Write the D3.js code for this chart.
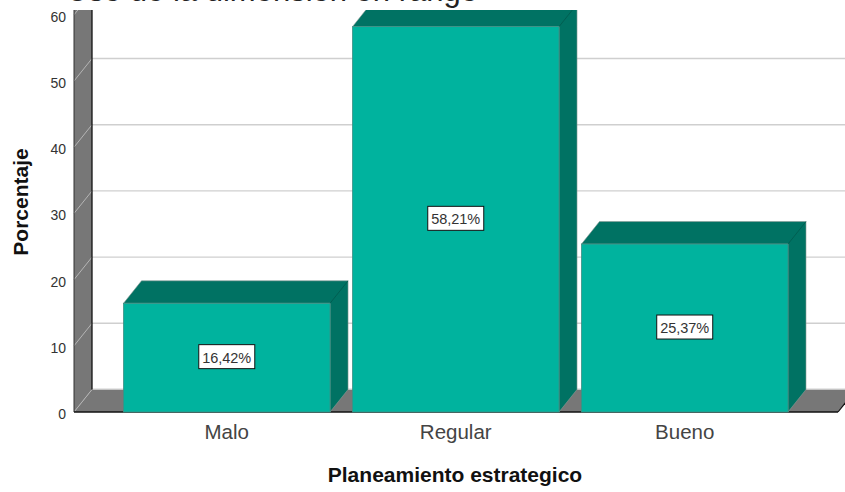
<!DOCTYPE html>
<html>
<head>
<meta charset="utf-8">
<script src="https://cdn.jsdelivr.net/npm/d3@7/dist/d3.min.js"></script>
<style>
  html, body { margin: 0; padding: 0; background: #fff; }
  svg { display: block; }
  text { font-family: "Liberation Sans", Arial, sans-serif; }
</style>
</head>
<body>
<svg id="chart" width="845" height="492"></svg>
<script>
// Values of the chart
const categories = ["Malo", "Regular", "Bueno"];
const percentages = [16.42, 58.21, 25.37];
const valueLabels = ["16,42%", "58,21%", "25,37%"];
const yTicks = [0, 10, 20, 30, 40, 50, 60];
const yAxisTitle = "Porcentaje";
const xAxisTitle = "Planeamiento estrategico";
const headingText = "Uso de la dimensión en rango";

const width = 845, height = 492;
const plot = { left: 74, right: 838, bottom: 412, top: 10 };
const depth = { x: 18, y: 22.5 };
const colors = {
  front: "#00b39e", side: "#007263", wall: "#777777",
  grid: "#cfcfcf", wallGrid: "#b5b5b5", axis: "#111111", text: "#333333"
};

const svg = d3.select("#chart");
const y = d3.scaleLinear().domain([0, 60]).range([plot.bottom, plot.bottom - 60 * 6.62]);
const x = d3.scaleBand().domain(categories)
  .range([123.5, 788]).paddingInner(0.098).paddingOuter(0);
const barX = d => x(d);

// Heading runs past the top of the page
svg.append("text").attr("x", 478).attr("y", 0.5).attr("text-anchor", "end")
  .attr("font-size", 31).attr("fill", "#222").text(headingText);

// Everything below the heading is clipped to the plotting band
const defs = svg.append("defs");
defs.append("clipPath").attr("id", "plot-clip").append("rect")
  .attr("x", 0).attr("y", plot.top).attr("width", width).attr("height", height - plot.top);
const g = svg.append("g").attr("clip-path", "url(#plot-clip)");

// Back gridlines
const backY = v => y(v) - depth.y;
g.selectAll("line.grid").data(yTicks.filter(t => t > 0)).join("line")
  .attr("class", "grid")
  .attr("x1", plot.left + depth.x).attr("x2", width)
  .attr("y1", backY).attr("y2", backY)
  .attr("stroke", colors.grid).attr("stroke-width", 1.4);

// Left wall
g.append("path")
  .attr("d", d3.line()([
    [plot.left, y(0)], [plot.left, 0], [plot.left + depth.x, 0], [plot.left + depth.x, backY(0)]
  ]) + "Z")
  .attr("fill", colors.wall);

// Floor
g.append("path")
  .attr("d", d3.line()([
    [plot.left, y(0)], [plot.left + depth.x, backY(0)],
    [plot.right + depth.x, backY(0)], [plot.right, y(0)]
  ]) + "Z")
  .attr("fill", colors.wall);
g.append("line").attr("x1", plot.left + depth.x).attr("x2", width)
  .attr("y1", backY(0) - 0.5).attr("y2", backY(0) - 0.5)
  .attr("stroke", colors.grid).attr("stroke-width", 1.2);

// Wall diagonals at each tick
g.selectAll("line.diag").data(yTicks).join("line")
  .attr("class", "diag")
  .attr("x1", plot.left).attr("y1", y)
  .attr("x2", plot.left + depth.x).attr("y2", backY)
  .attr("stroke", colors.wallGrid).attr("stroke-width", 1);

// Wall and floor edges
g.append("line").attr("x1", plot.left + depth.x).attr("x2", plot.left + depth.x)
  .attr("y1", 0).attr("y2", backY(0)).attr("stroke", colors.axis).attr("stroke-width", 1.3);
g.append("line").attr("x1", plot.left).attr("x2", plot.left)
  .attr("y1", 0).attr("y2", y(0)).attr("stroke", "#333").attr("stroke-width", 1);
g.append("line").attr("x1", plot.left).attr("x2", plot.right)
  .attr("y1", y(0)).attr("y2", y(0)).attr("stroke", colors.axis).attr("stroke-width", 1.4);
g.append("line").attr("x1", plot.right).attr("x2", plot.right + depth.x)
  .attr("y1", y(0)).attr("y2", backY(0)).attr("stroke", colors.axis).attr("stroke-width", 1.2);

// Bars with top and side faces
const bars = g.selectAll("g.bar").data(categories.map((c, i) => ({ c, v: percentages[i], label: valueLabels[i] })))
  .join("g").attr("class", "bar");
bars.append("path").attr("fill", colors.side).attr("stroke", "#8a9a96").attr("stroke-width", 0.6)
  .attr("d", d => {
    const x0 = barX(d.c), x1 = x0 + x.bandwidth();
    return d3.line()([[x0, y(d.v)], [x0 + depth.x, y(d.v) - depth.y], [x1 + depth.x, y(d.v) - depth.y], [x1 + depth.x, y(0) - depth.y], [x1, y(0)], [x1, y(d.v)]]) + "Z";
  });
bars.append("line").attr("stroke", "#00594d").attr("stroke-width", 0.8)
  .attr("x1", d => barX(d.c) + x.bandwidth()).attr("y1", d => y(d.v))
  .attr("x2", d => barX(d.c) + x.bandwidth() + depth.x).attr("y2", d => y(d.v) - depth.y);
bars.append("rect").attr("fill", colors.front)
  .attr("x", d => barX(d.c)).attr("width", x.bandwidth())
  .attr("y", d => y(d.v)).attr("height", d => y(0) - y(d.v));
bars.append("rect").attr("fill", "none").attr("stroke", "#3f8f84").attr("stroke-width", 0.8)
  .attr("x", d => barX(d.c)).attr("width", x.bandwidth())
  .attr("y", d => y(d.v)).attr("height", d => y(0) - y(d.v));

// Value labels
const labelW = 56, labelH = 24;
const labelCx = d => barX(d.c) + x.bandwidth() / 2;
const labelCy = d => (y(0) + y(d.v)) / 2;
bars.append("rect").attr("fill", "#fff").attr("stroke", "#111").attr("stroke-width", 1)
  .attr("x", d => labelCx(d) - labelW / 2).attr("y", d => labelCy(d) - labelH / 2 - 1)
  .attr("width", labelW).attr("height", labelH);
bars.append("text").attr("x", labelCx).attr("y", d => labelCy(d) + 5)
  .attr("text-anchor", "middle").attr("font-size", 14.5).attr("fill", colors.text)
  .attr("textLength", 49).text(d => d.label);

// Axis labels
svg.selectAll("text.ytick").data(yTicks).join("text").attr("class", "ytick")
  .attr("x", 66).attr("y", d => y(d) + 7)
  .attr("text-anchor", "end").attr("font-size", 14).attr("fill", colors.text).text(d => d);
svg.selectAll("text.xtick").data(categories).join("text").attr("class", "xtick")
  .attr("x", d => barX(d) + x.bandwidth() / 2).attr("y", 439)
  .attr("text-anchor", "middle").attr("font-size", 20.5).attr("fill", "#444").text(d => d);
svg.append("text").attr("x", 455).attr("y", 482).attr("text-anchor", "middle")
  .attr("font-size", 21).attr("font-weight", "bold").attr("fill", "#111").text(xAxisTitle);
svg.append("text").attr("transform", "translate(28,202) rotate(-90)").attr("text-anchor", "middle")
  .attr("font-size", 21).attr("font-weight", "bold").attr("fill", "#111").text(yAxisTitle);
</script>
</body>
</html>
